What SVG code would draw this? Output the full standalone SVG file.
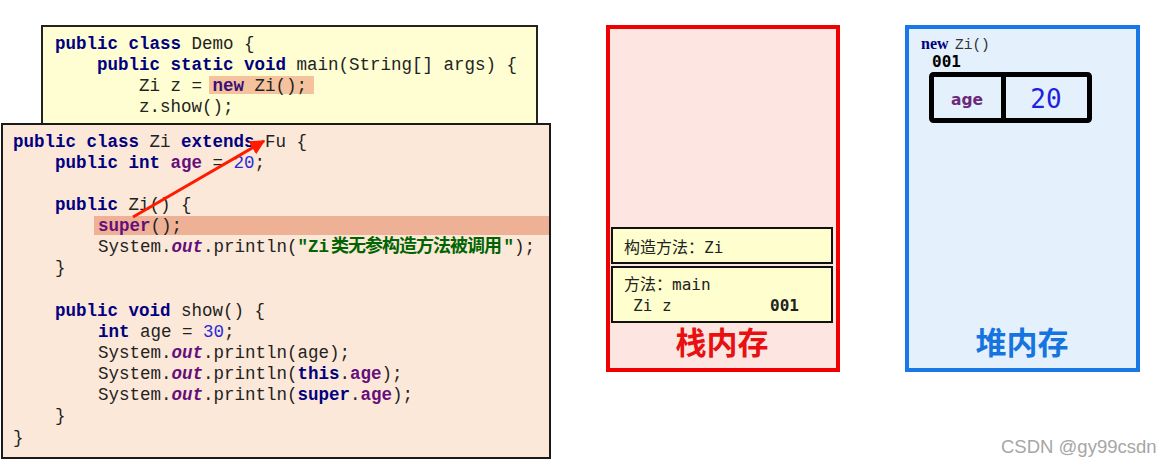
<svg xmlns="http://www.w3.org/2000/svg" width="1171" height="467" viewBox="0 0 1171 467">
<defs>
<style>
.code{font-family:"Liberation Mono","DejaVu Sans Mono",monospace;font-size:17.5px;fill:#222;}
.kw{font-weight:bold;fill:#000080;}
.fld{font-weight:bold;fill:#660e7a;}
.ital{font-weight:bold;font-style:italic;fill:#660e7a;}
.num{fill:#2a2ad8;}
.str{font-weight:bold;fill:#006400;}
.cjkstr{font-family:"Noto Sans CJK SC","Noto Sans CJK JP",sans-serif;font-size:18px;font-weight:bold;fill:#006400;}
.mem{font-family:"DejaVu Sans Mono","Noto Sans CJK SC",monospace;font-size:16px;fill:#222;}
.title{font-family:"Noto Sans CJK SC",sans-serif;font-size:31px;font-weight:bold;text-anchor:middle;}
.frame{fill:#fefece;stroke:#111;stroke-width:2;}
</style>
<marker id="ah" viewBox="0 0 10 10" refX="9" refY="5" markerWidth="5" markerHeight="5" orient="auto" markerUnits="strokeWidth">
<path d="M0,0 L10,5 L0,10 z" fill="#ff1a00"/>
</marker>
</defs>
<rect width="1171" height="467" fill="#ffffff"/>

<g id="demo-class">
<rect x="42" y="26" width="495" height="112" fill="#fefed2" stroke="#222" stroke-width="2"/>
<rect x="209" y="76" width="105" height="18" fill="#f4c39e"/>
<text class="code" xml:space="preserve" x="55" y="48.5"><tspan class="kw">public class</tspan> Demo {</text>
<text class="code" xml:space="preserve" x="55" y="69.5">    <tspan class="kw">public static void</tspan> main(String[] args) {</text>
<text class="code" xml:space="preserve" x="55" y="90.5">        Zi z = <tspan font-weight="bold" fill="#3a0f78">new</tspan> Zi();</text>
<text class="code" xml:space="preserve" x="55" y="111.5">        z.show();</text>
</g>

<g id="zi-class">
<rect x="2" y="124" width="548" height="334" fill="#fce8d8" stroke="#1a1a1a" stroke-width="2"/>
<rect x="94" y="216" width="455" height="19" fill="#efb196"/>
<text class="code" xml:space="preserve" x="13" y="146.5"><tspan class="kw">public class</tspan> Zi <tspan class="kw">extends</tspan> Fu {</text>
<text class="code" xml:space="preserve" x="13" y="167.6">    <tspan class="kw">public int</tspan> <tspan class="fld">age</tspan> = <tspan class="num">20</tspan>;</text>
<text class="code" xml:space="preserve" x="13" y="209.9">    <tspan class="kw">public</tspan> Zi() {</text>
<text class="code" xml:space="preserve" x="13" y="231"><tspan x="98" class="fld">super</tspan>();</text>
<text class="code" xml:space="preserve" x="98" y="252.2">System.<tspan class="ital">out</tspan>.println(<tspan class="str">"Zi</tspan></text>
<text class="cjkstr" x="331" y="252.2" textLength="171" lengthAdjust="spacing">类无参构造方法被调用</text>
<text class="code" xml:space="preserve" x="503.5" y="252.2"><tspan class="str">"</tspan>);</text>
<text class="code" xml:space="preserve" x="13" y="273.3">    }</text>
<text class="code" xml:space="preserve" x="13" y="315.6">    <tspan class="kw">public void</tspan> show() {</text>
<text class="code" xml:space="preserve" x="98" y="336.8"><tspan class="kw">int</tspan> age = <tspan class="num">30</tspan>;</text>
<text class="code" xml:space="preserve" x="98" y="357.9">System.<tspan class="ital">out</tspan>.println(age);</text>
<text class="code" xml:space="preserve" x="98" y="379">System.<tspan class="ital">out</tspan>.println(<tspan class="kw">this</tspan>.<tspan class="fld">age</tspan>);</text>
<text class="code" xml:space="preserve" x="98" y="400.2">System.<tspan class="ital">out</tspan>.println(<tspan class="kw">super</tspan>.<tspan class="fld">age</tspan>);</text>
<text class="code" xml:space="preserve" x="13" y="421.3">    }</text>
<text class="code" xml:space="preserve" x="13" y="442.5">}</text>
</g>

<g id="stack-memory">
<rect x="608" y="27" width="230" height="343" fill="#fde6e1" stroke="#f00000" stroke-width="4"/>
<text class="title" x="722" y="354" fill="#e81010">栈内存</text>
</g>
<g id="stack-frame-constructor">
<rect class="frame" x="612" y="228" width="220" height="35"/>
<text class="mem" x="624" y="253">构造方法：Zi</text>
</g>
<g id="stack-frame-main">
<rect class="frame" x="612" y="267" width="220" height="55"/>
<text class="mem" x="624" y="290">方法：main</text>
<text class="mem" x="633" y="311">Zi z</text>
<text class="mem" x="770" y="311" font-weight="bold" fill="#000">001</text>
</g>

<g id="heap-memory">
<rect x="907" y="27" width="231" height="343" fill="#e4f0fb" stroke="#1a78e6" stroke-width="4"/>
<text x="921" y="49" font-family="Liberation Serif,serif" font-size="16" font-weight="bold" fill="#000080">new</text>
<text x="955" y="49" font-family="Liberation Mono,monospace" font-size="14.5" fill="#333">Zi()</text>
<text class="title" x="1022" y="354" fill="#1574e0">堆内存</text>
</g>
<g id="heap-object">
<text x="932" y="67" font-family="DejaVu Sans Mono,monospace" font-size="16" font-weight="bold" fill="#000">001</text>
<rect x="931.5" y="74.5" width="158" height="46" rx="2" fill="#e4f0fb" stroke="#000" stroke-width="5"/>
<line x1="1003.5" y1="74.5" x2="1003.5" y2="120.5" stroke="#000" stroke-width="5"/>
<text x="967" y="105" font-family="DejaVu Sans,sans-serif" font-size="15.5" font-weight="bold" fill="#6a2a7a" text-anchor="middle">age</text>
<text x="1046" y="108" font-family="DejaVu Sans Mono,monospace" font-size="26" fill="#2020e0" text-anchor="middle">20</text>
</g>

<g id="connectors">
<line x1="133" y1="217" x2="264" y2="141" stroke="#ff1a00" stroke-width="3" marker-end="url(#ah)"/>
</g>

<text x="1001" y="453" font-family="Liberation Sans,sans-serif" font-size="18.5" fill="#a6a6a6">CSDN @gy99csdn</text>
</svg>
